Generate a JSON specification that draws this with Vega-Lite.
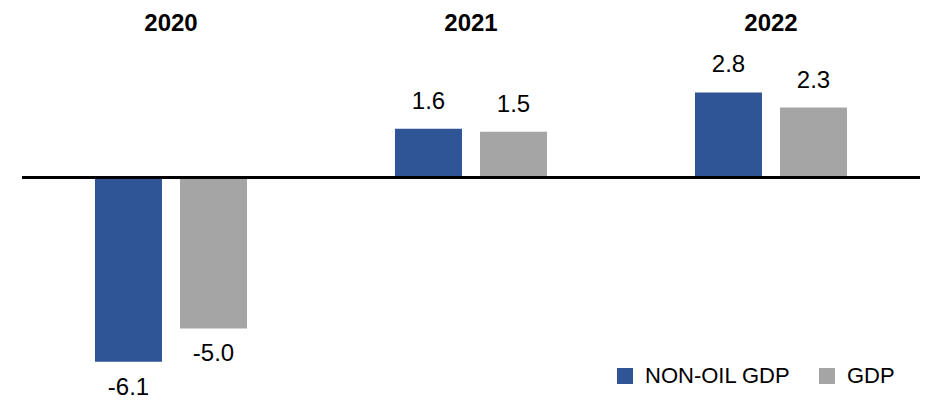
{
  "$schema": "https://vega.github.io/schema/vega-lite/v6.json",
  "autosize": {"type": "none"},
  "padding": {"left": 22, "top": 41, "right": 6, "bottom": 2},
  "width": 898,
  "height": 360,
  "config": {
    "view": {"stroke": null},
    "font": "Liberation Sans"
  },
  "data": {
    "values": [
      {"year": "2020", "series": "NON-OIL GDP", "value": -6.1},
      {"year": "2020", "series": "GDP", "value": -5.0},
      {"year": "2021", "series": "NON-OIL GDP", "value": 1.6},
      {"year": "2021", "series": "GDP", "value": 1.5},
      {"year": "2022", "series": "NON-OIL GDP", "value": 2.8},
      {"year": "2022", "series": "GDP", "value": 2.3}
    ]
  },
  "encoding": {
    "x": {
      "field": "year",
      "type": "nominal",
      "scale": {"paddingInner": 0.4933, "paddingOuter": 0.2433},
      "axis": {
        "orient": "top",
        "title": null,
        "domain": false,
        "ticks": false,
        "tickSize": 0,
        "labelAngle": 0,
        "labelFontSize": 24,
        "labelFontWeight": "bold",
        "labelColor": "#000000",
        "labelBaseline": "alphabetic",
        "labelPadding": 11
      }
    },
    "xOffset": {
      "field": "series",
      "type": "nominal",
      "sort": ["NON-OIL GDP", "GDP"],
      "scale": {"paddingInner": 0.212, "paddingOuter": 0}
    },
    "y": {
      "field": "value",
      "type": "quantitative",
      "scale": {"domain": [-7.4, 4.5], "nice": false, "zero": false},
      "axis": null
    }
  },
  "layer": [
    {
      "mark": {"type": "bar"},
      "encoding": {
        "color": {
          "field": "series",
          "type": "nominal",
          "sort": ["NON-OIL GDP", "GDP"],
          "scale": {"domain": ["NON-OIL GDP", "GDP"], "range": ["#2F5597", "#A5A5A5"]},
          "legend": {
            "orient": "none",
            "legendX": 592,
            "legendY": 324,
            "direction": "horizontal",
            "title": null,
            "symbolType": "square",
            "symbolSize": 256,
            "symbolStrokeWidth": 0,
            "labelFontSize": 22,
            "labelColor": "#000000",
            "labelOffset": 9,
            "columnPadding": 25,
            "padding": 0
          }
        }
      }
    },
    {
      "transform": [{"filter": "datum.value > 0"}],
      "mark": {"type": "text", "baseline": "alphabetic", "dy": -20, "fontSize": 24, "color": "#000000"},
      "encoding": {"text": {"value": {"expr": "replace(format(datum.value, '.1f'), '\u2212', '-')"}}}
    },
    {
      "transform": [{"filter": "datum.value < 0"}],
      "mark": {"type": "text", "baseline": "alphabetic", "dy": 33, "fontSize": 24, "color": "#000000", "text": {"expr": "replace(format(datum.value, '.1f'), '\u2212', '-')"}},
      "encoding": {}
    },
    {
      "mark": {"type": "rule", "color": "#000000", "strokeWidth": 2.5},
      "encoding": {"y": {"datum": 0}, "x": null, "xOffset": null}
    }
  ]
}
